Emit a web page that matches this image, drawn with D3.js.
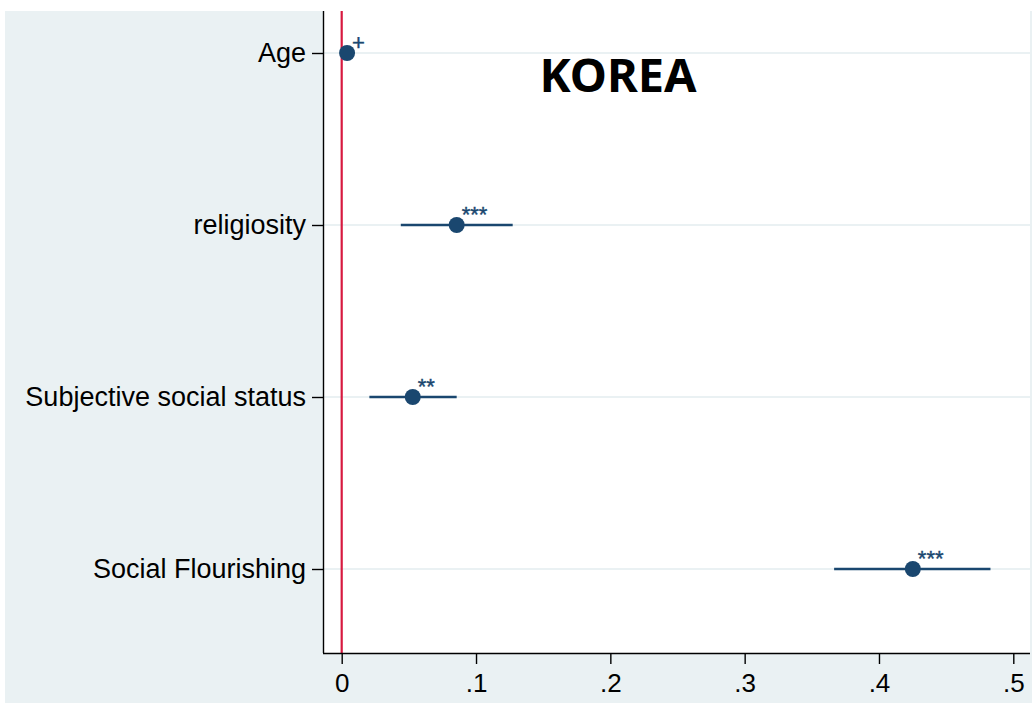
<!DOCTYPE html>
<html><head><meta charset="utf-8">
<script src="https://cdn.jsdelivr.net/npm/d3@7"></script>
<style>body{margin:0;background:#fff}svg{display:block}</style>
</head><body><svg id="c" width="1032" height="707"></svg>
<script>
const categories = ["Age","religiosity","Subjective social status","Social Flourishing"];
const estimates = [0.004, 0.0856, 0.0529, 0.4252];
const ciLow = [0.003, 0.0440, 0.0206, 0.3666];
const ciHigh = [0.005, 0.1273, 0.0856, 0.4830];
const stars = ["+","***","**","***"];
const xTicks = [0, 0.1, 0.2, 0.3, 0.4, 0.5];
const xTickLabels = ["0", ".1", ".2", ".3", ".4", ".5"];
const title = "KOREA";

const svg = d3.select("#c");
const navy = "#1a476f";
svg.append("rect").attr("x",5).attr("y",11).attr("width",1027).attr("height",692).attr("fill","#eaf1f3");
const L = 323, R = 1030, T = 11, B = 653;
svg.append("rect").attr("x",L).attr("y",T).attr("width",R-L).attr("height",B-T).attr("fill","#fff");

const x = d3.scaleLinear().domain([0,0.5]).range([341.7,1013.3]);
const y = d3.scalePoint().domain(categories).range([53,569]);

// gridlines
svg.append("g").selectAll("line").data(categories).join("line")
  .attr("x1",L).attr("x2",R).attr("y1",d=>y(d)).attr("y2",d=>y(d))
  .attr("stroke","#eaf1f3").attr("stroke-width",2);

// zero line
svg.append("line").attr("x1",x(0)).attr("x2",x(0)).attr("y1",T).attr("y2",B)
  .attr("stroke","#d7193f").attr("stroke-width",2.2);

// axes
const xAxis = d3.axisBottom(x).tickValues(xTicks).tickFormat((d,i)=>xTickLabels[i]).tickSize(11).tickSizeOuter(0).tickPadding(10);
const gx = svg.append("g").attr("transform",`translate(0,${B})`).call(xAxis);
gx.select(".domain").attr("d",`M${L},0.5H${R}`).attr("stroke","#000").attr("stroke-width",1.4);
gx.selectAll(".tick line").attr("stroke","#000").attr("stroke-width",1.4);
gx.selectAll(".tick text").attr("font-family","'Liberation Sans', Arial, sans-serif").attr("font-size",26).attr("fill","#000");

const yAxis = d3.axisLeft(y).tickSize(11).tickSizeOuter(0).tickPadding(6);
const gy = svg.append("g").attr("transform",`translate(${L},0)`).call(yAxis);
gy.select(".domain").attr("d",`M0.5,${T}V${B}`).attr("stroke","#000").attr("stroke-width",1.4);
gy.selectAll(".tick line").attr("stroke","#000").attr("stroke-width",1.4);
gy.selectAll(".tick text").attr("font-family","'Liberation Sans', Arial, sans-serif").attr("font-size",27).attr("fill","#000");

// CI
const idx = d3.range(categories.length);
svg.append("g").selectAll("line").data(idx).join("line")
  .attr("x1",i=>x(ciLow[i])).attr("x2",i=>x(ciHigh[i]))
  .attr("y1",i=>y(categories[i])).attr("y2",i=>y(categories[i]))
  .attr("stroke",navy).attr("stroke-width",2.6);
svg.append("g").selectAll("circle").data(idx).join("circle")
  .attr("cx",i=>x(estimates[i])).attr("cy",i=>y(categories[i])).attr("r",8).attr("fill",navy);
svg.append("g").selectAll("text").data(idx).join("text")
  .attr("x",i=>x(estimates[i])+5).attr("y",i=>y(categories[i])-(stars[i]==="+"?3:3))
  .attr("font-family","'Liberation Sans', Arial, sans-serif").attr("font-size",22).attr("fill",navy)
  .attr("stroke",navy).attr("stroke-width",0.4)
  .text(i=>stars[i]);

svg.append("text").attr("x",618).attr("y",92).attr("text-anchor","middle")
  .attr("font-family","'Noto Sans', sans-serif").attr("font-weight","bold").attr("font-size",47).attr("fill","#000")
  .text(title);
</script></body></html>
